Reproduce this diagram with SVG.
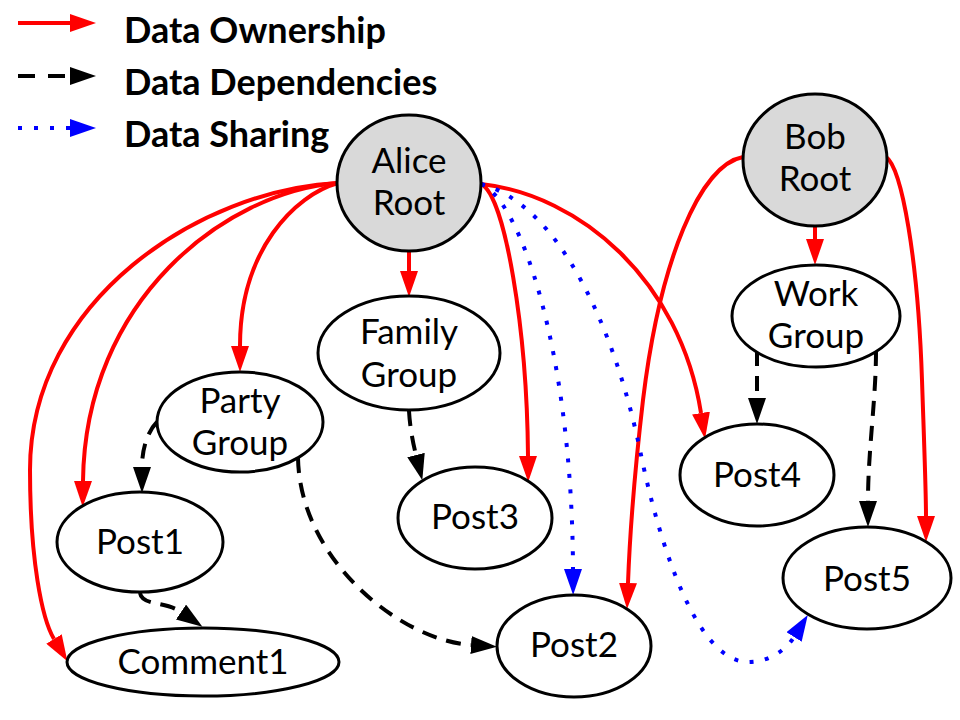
<svg xmlns="http://www.w3.org/2000/svg" width="960" height="720" viewBox="0 0 960 720">
<style>
.node ellipse{fill:#ffffff;stroke:#000000;stroke-width:3}
.root ellipse{fill:#d9d9d9}
.lbl{font-family:Lato,"Liberation Sans",sans-serif;font-size:35px;fill:#000000;text-anchor:middle}
.leg{font-family:Lato,"Liberation Sans",sans-serif;font-size:36px;font-weight:bold;fill:#000000}
.own{fill:none;stroke:#ff0000;stroke-width:4;marker-end:url(#ar)}
.dep{fill:none;stroke:#000000;stroke-width:4;stroke-dasharray:15 10;marker-end:url(#ab)}
.shr{fill:none;stroke:#0000ff;stroke-width:4;stroke-dasharray:4 11.5;marker-end:url(#au)}
</style>
<defs>
<marker id="ar" markerUnits="userSpaceOnUse" markerWidth="26" markerHeight="18" refX="0" refY="9" orient="auto" viewBox="0 0 26 18"><path d="M0,0 L26,9 L0,18 z" fill="#ff0000"/></marker>
<marker id="ab" markerUnits="userSpaceOnUse" markerWidth="26" markerHeight="18" refX="0" refY="9" orient="auto" viewBox="0 0 26 18"><path d="M0,0 L26,9 L0,18 z" fill="#000000"/></marker>
<marker id="au" markerUnits="userSpaceOnUse" markerWidth="26" markerHeight="18" refX="0" refY="9" orient="auto" viewBox="0 0 26 18"><path d="M0,0 L26,9 L0,18 z" fill="#0000ff"/></marker>
</defs>
<rect width="960" height="720" fill="#ffffff"/>
<g id="legend">
<path class="own" d="M18,23 L70,23"/>
<path class="dep" d="M18,76 L70,76" style="stroke-dasharray:17 13"/>
<path class="shr" d="M18,128 L70,128" style="stroke-dasharray:4 12"/>
<text class="leg" x="124" y="43">Data Ownership</text>
<text class="leg" x="124" y="95">Data Dependencies</text>
<text class="leg" x="124" y="147">Data Sharing</text>
</g>
<g id="connectors">
<path class="own" d="M338,183 C295,195 240,250 240,346"/>
<path class="own" d="M409,251 L409,271"/>
<path class="own" d="M338,183 C225,192 85,300 83,481"/>
<path class="own" d="M338,183 C200,190 30,300 30,470 C30,560 42,619 54,639"/>
<path class="own" d="M481,184 C505,195 527,330 528,456"/>
<path class="own" d="M481,184 C580,195 680,280 701,413"/>
<path class="own" d="M815,226 L815,239"/>
<path class="own" d="M743,157 C700,165 660,260 643,400 C636,460 630,530 628,583"/>
<path class="own" d="M886,157 C902,168 918,260 922,380 C924,440 926,490 926,516"/>
<path class="dep" d="M409,411 C410,428 413,443 416,455"/>
<path class="dep" d="M157,422 C147,432 142,450 142,467"/>
<path class="dep" d="M298,458 C300,560 400,640 471,645"/>
<path class="dep" d="M140,593 C142,606 165,601 181,612"/>
<path class="dep" d="M757,351 L757,398"/>
<path class="dep" d="M876,351 C876,400 868,450 868,501"/>
<path class="shr" d="M481,184 C520,200 572,350 573,569"/>
<path class="shr" d="M481,184 C560,205 615,330 640,450 C652,510 690,665 750,662 C765,662 784,653 794,637"/>
</g>
<g id="alice" class="node root"><ellipse cx="409" cy="183" rx="72" ry="68"/><text class="lbl" x="409" y="173">Alice</text><text class="lbl" x="409" y="215">Root</text></g>
<g id="bob" class="node root"><ellipse cx="815" cy="160" rx="72" ry="66"/><text class="lbl" x="815" y="149">Bob</text><text class="lbl" x="815" y="191">Root</text></g>
<g id="workgroup" class="node"><ellipse cx="816" cy="316" rx="84" ry="51"/><text class="lbl" x="816" y="306">Work</text><text class="lbl" x="816" y="348">Group</text></g>
<g id="familygroup" class="node"><ellipse cx="409" cy="353" rx="91" ry="57"/><text class="lbl" x="409" y="344">Family</text><text class="lbl" x="409" y="387">Group</text></g>
<g id="partygroup" class="node"><ellipse cx="240" cy="422" rx="83" ry="50"/><text class="lbl" x="240" y="413">Party</text><text class="lbl" x="240" y="455">Group</text></g>
<g id="post1" class="node"><ellipse cx="140" cy="542" rx="83" ry="50"/><text class="lbl" x="140" y="554">Post1</text></g>
<g id="comment1" class="node"><ellipse cx="203" cy="662" rx="136" ry="34"/><text class="lbl" x="203" y="674">Comment1</text></g>
<g id="post3" class="node"><ellipse cx="475" cy="518" rx="77" ry="51"/><text class="lbl" x="475" y="529">Post3</text></g>
<g id="post4" class="node"><ellipse cx="757" cy="475" rx="77" ry="51"/><text class="lbl" x="757" y="487">Post4</text></g>
<g id="post5" class="node"><ellipse cx="867" cy="578" rx="84" ry="51"/><text class="lbl" x="867" y="591">Post5</text></g>
<g id="post2" class="node"><ellipse cx="574" cy="646" rx="77" ry="51"/><text class="lbl" x="574" y="657">Post2</text></g>
</svg>
